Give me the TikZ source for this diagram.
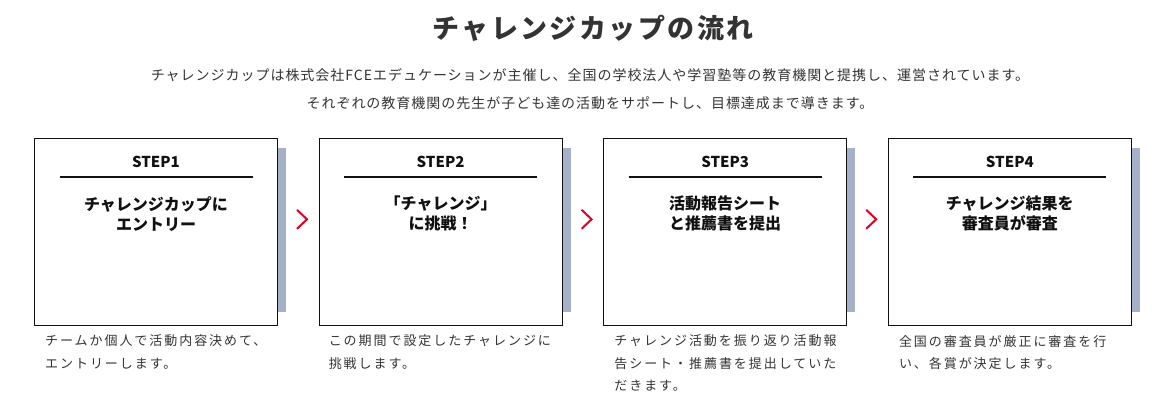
\documentclass[tikz,border=0pt]{standalone}
\usepackage{fontspec}
\setmainfont{Noto Sans CJK JP}
\newfontfamily\leadfont{Noto Sans CJK JP}[LetterSpace=7]
\newfontfamily\spacedfont{Noto Sans CJK JP}[LetterSpace=9]
\newfontfamily\notefont{Noto Sans CJK JP}[LetterSpace=15]
\usetikzlibrary{positioning}
\definecolor{FlowInk}{RGB}{51, 51, 51}
\definecolor{FlowBlack}{RGB}{17, 17, 17}
\definecolor{FlowBar}{RGB}{164, 177, 200}
\definecolor{FlowRed}{RGB}{225, 0, 35}

\tikzset{
  stepbox/.style={draw=FlowBlack, line width=1pt, fill=white, minimum width=243pt, minimum height=187pt, inner sep=0pt},
  steplabel/.style={font=\bfseries\fontsize{15pt}{18pt}\selectfont, text=FlowBlack, inner sep=0pt},
  steptitle/.style={font=\bfseries\fontsize{16pt}{20pt}\selectfont, text=FlowBlack, align=center, inner sep=0pt},
  stepnote/.style={font=\notefont\fontsize{13pt}{22.3pt}\selectfont, text=FlowInk, align=left, anchor=north west, inner sep=0pt},
  steprule/.style={draw=FlowBlack, line width=2pt},
  stepbar/.style={fill=FlowBar},
  chevron/.style={draw=FlowRed, line width=2pt, line cap=butt, line join=miter}
}

\begin{document}
\begin{tikzpicture}[x=1pt, y=-1pt]
    \useasboundingbox (0,0) rectangle (1172,409);

    \node[font=\spacedfont\bfseries\fontsize{27pt}{32pt}\selectfont, text=FlowInk, inner sep=0pt] (head) at (593,28) {チャレンジカップの流れ};
    \node[font=\leadfont\fontsize{14pt}{28pt}\selectfont, text=FlowInk, align=center, inner sep=0pt] (lead) at (590,89) {チャレンジカップは株式会社FCEエデュケーションが主催し、全国の学校法人や学習塾等の教育機関と提携し、運営されています。\\それぞれの教育機関の先生が子ども達の活動をサポートし、目標達成まで導きます。};

    \node[stepbox] (s1) at (156,231.8) {};
    \node[stepbox, right=40.6pt of s1] (s2) {};
    \node[stepbox, right=40.6pt of s2] (s3) {};
    \node[stepbox, right=40.6pt of s3] (s4) {};

    \fill[stepbar] ([yshift=-10pt]s1.north east) rectangle ([shift={(8pt,14pt)}]s1.south east);
    \fill[stepbar] ([yshift=-10pt]s2.north east) rectangle ([shift={(8pt,14pt)}]s2.south east);
    \fill[stepbar] ([yshift=-10pt]s3.north east) rectangle ([shift={(8pt,14pt)}]s3.south east);
    \fill[stepbar] ([yshift=-10pt]s4.north east) rectangle ([shift={(8pt,14pt)}]s4.south east);

    \node[steplabel] (l1) at ([yshift=-24pt]s1.north) {STEP1};
    \node[steplabel] (l2) at ([yshift=-24pt]s2.north) {STEP2};
    \node[steplabel] (l3) at ([yshift=-24pt]s3.north) {STEP3};
    \node[steplabel] (l4) at ([yshift=-24pt]s4.north) {STEP4};

    \draw[steprule] ([shift={(-96.5pt,-39.5pt)}]s1.north) -- ([shift={(96.5pt,-39.5pt)}]s1.north);
    \draw[steprule] ([shift={(-96.5pt,-39.5pt)}]s2.north) -- ([shift={(96.5pt,-39.5pt)}]s2.north);
    \draw[steprule] ([shift={(-96.5pt,-39.5pt)}]s3.north) -- ([shift={(96.5pt,-39.5pt)}]s3.north);
    \draw[steprule] ([shift={(-96.5pt,-39.5pt)}]s4.north) -- ([shift={(96.5pt,-39.5pt)}]s4.north);

    \node[steptitle] (t1) at ([yshift=-76pt]s1.north) {チャレンジカップに\\エントリー};
    \node[steptitle] (t2) at ([yshift=-76pt]s2.north) {「チャレンジ」\\に挑戦！};
    \node[steptitle] (t3) at ([yshift=-76pt]s3.north) {活動報告シート\\と推薦書を提出};
    \node[steptitle] (t4) at ([yshift=-76pt]s4.north) {チャレンジ結果を\\審査員が審査};

    \node[stepnote] (n1) at ([shift={(11pt,-9pt)}]s1.south west) {チームか個人で活動内容決めて、\\エントリーします。};
    \node[stepnote] (n2) at ([shift={(10pt,-9pt)}]s2.south west) {この期間で設定したチャレンジに\\挑戦します。};
    \node[stepnote] (n3) at ([shift={(11pt,-9pt)}]s3.south west) {チャレンジ活動を振り返り活動報\\告シート・推薦書を提出していた\\だきます。};
    \node[stepnote] (n4) at ([shift={(11pt,-9pt)}]s4.south west) {全国の審査員が厳正に審査を行\\い、各賞が決定します。};

    \coordinate (c1) at ([shift={(24pt,12.5pt)}]s1.east);
    \coordinate (c2) at ([shift={(24pt,12.5pt)}]s2.east);
    \coordinate (c3) at ([shift={(24pt,12.5pt)}]s3.east);
    \draw[chevron] ([shift={(-5pt,9.5pt)}]c1) -- ([xshift=5pt]c1) -- ([shift={(-5pt,-9.5pt)}]c1);
    \draw[chevron] ([shift={(-5pt,9.5pt)}]c2) -- ([xshift=5pt]c2) -- ([shift={(-5pt,-9.5pt)}]c2);
    \draw[chevron] ([shift={(-5pt,9.5pt)}]c3) -- ([xshift=5pt]c3) -- ([shift={(-5pt,-9.5pt)}]c3);
  \end{tikzpicture}
\end{document}
